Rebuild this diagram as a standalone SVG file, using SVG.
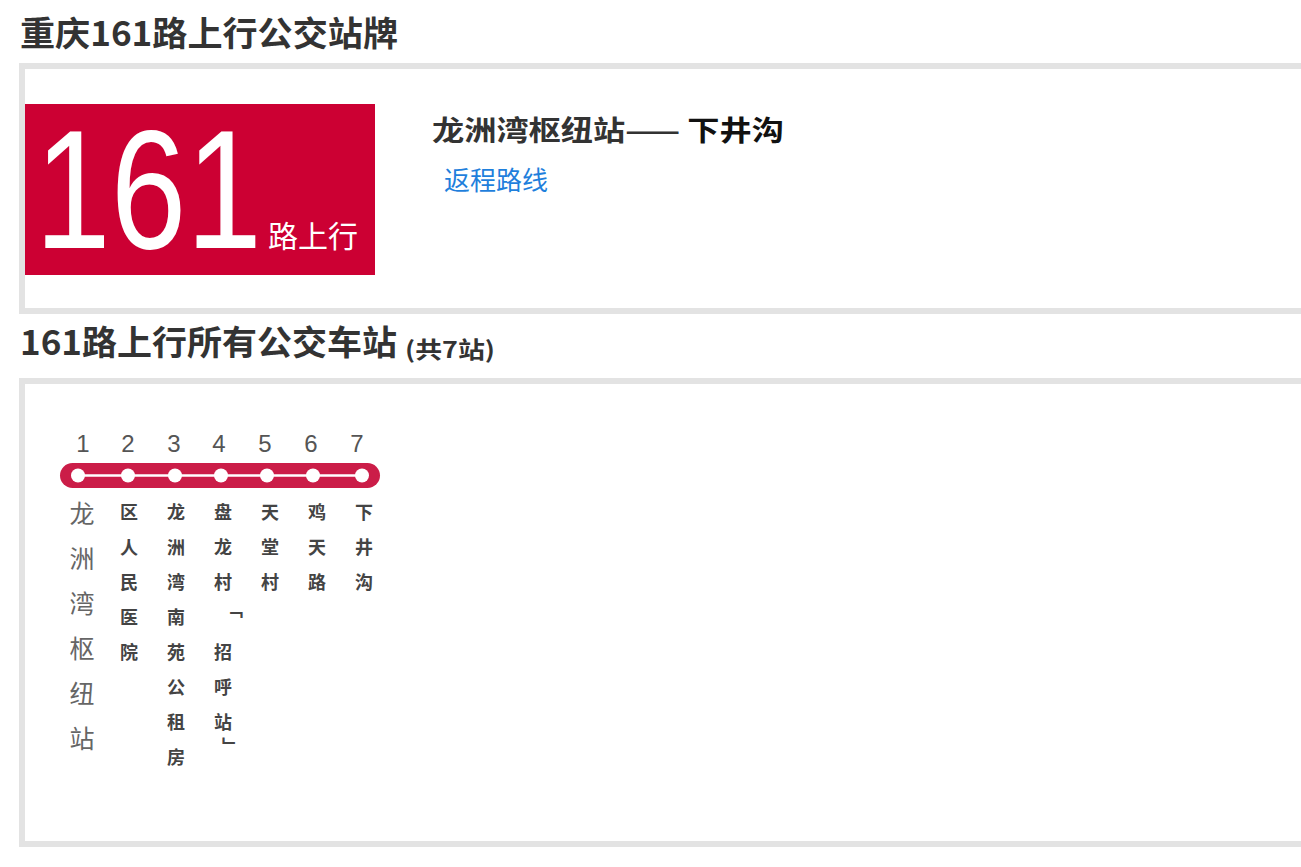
<svg xmlns="http://www.w3.org/2000/svg" width="1301" height="867" viewBox="0 0 1301 867">
<style>
.h{font-family:"Noto Sans CJK SC","Liberation Sans",sans-serif;font-weight:bold;fill:#333;}
.panel{fill:#fff;stroke:#e3e3e3;stroke-width:6;}
.num{font-family:"Liberation Sans","Noto Sans CJK SC",sans-serif;font-size:24px;fill:#555;text-anchor:middle;}
.big{font-family:"Noto Sans CJK SC",sans-serif;font-size:25px;fill:#666;text-anchor:middle;}
.sm{font-family:"Noto Sans CJK SC",sans-serif;font-size:18px;font-weight:bold;fill:#444;text-anchor:middle;}
.dot{fill:#fff;}
</style>
<rect width="1301" height="867" fill="#fff"/>
<text class="h" x="20" y="46" font-size="34" textLength="378" lengthAdjust="spacingAndGlyphs">重庆161路上行公交站牌</text>
<rect class="panel" x="22" y="66" width="1290" height="245"/>
<g id="badge">
<rect x="25" y="104" width="350" height="171" fill="#cc0033"/>
<text x="35" y="248" font-family="Liberation Sans,sans-serif" font-size="168" fill="#fff" textLength="227" lengthAdjust="spacingAndGlyphs">161</text>
<text x="268" y="247" font-family="Noto Sans CJK SC,sans-serif" font-size="30" fill="#fff">路上行</text>
</g>
<g id="route-title">
<text x="432" y="141" font-family="Noto Sans CJK SC,sans-serif" font-size="28" font-weight="bold" textLength="352" lengthAdjust="spacingAndGlyphs"><tspan fill="#333">龙洲湾枢纽站—— </tspan><tspan fill="#111">下井沟</tspan></text>
<text x="444" y="190" font-family="Noto Sans CJK SC,sans-serif" font-size="26" fill="#1f7fdc">返程路线</text>
</g>
<text class="h" x="20" y="355" font-size="34" textLength="377" lengthAdjust="spacingAndGlyphs">161路上行所有公交车站</text>
<text x="405" y="358" font-family="Noto Sans CJK SC,sans-serif" font-size="23" fill="#333" font-weight="bold" textLength="90" lengthAdjust="spacingAndGlyphs">(共7站)</text>
<rect class="panel" x="22" y="381" width="1290" height="463"/>
<g id="connectors">
<rect x="60" y="463" width="320" height="25" rx="12.5" fill="#cb1d48"/>
<line x1="78" y1="475.5" x2="362" y2="475.5" stroke="#fff" stroke-width="2.5"/>
</g>
<g id="stop1"><text class="num" x="83" y="452">1</text><circle class="dot" cx="78" cy="475.5" r="7"/>
<text class="big"><tspan x="82" y="523">龙</tspan><tspan x="82" y="568">洲</tspan><tspan x="82" y="613">湾</tspan><tspan x="82" y="658">枢</tspan><tspan x="82" y="703">纽</tspan><tspan x="82" y="748">站</tspan></text></g>
<g id="stop2"><text class="num" x="128" y="452">2</text><circle class="dot" cx="128" cy="475.5" r="7"/>
<text class="sm"><tspan x="129" y="519">区</tspan><tspan x="129" y="554">人</tspan><tspan x="129" y="589">民</tspan><tspan x="129" y="624">医</tspan><tspan x="129" y="659">院</tspan></text></g>
<g id="stop3"><text class="num" x="174" y="452">3</text><circle class="dot" cx="175" cy="475.5" r="7"/>
<text class="sm"><tspan x="176" y="519">龙</tspan><tspan x="176" y="554">洲</tspan><tspan x="176" y="589">湾</tspan><tspan x="176" y="624">南</tspan><tspan x="176" y="659">苑</tspan><tspan x="176" y="694">公</tspan><tspan x="176" y="729">租</tspan><tspan x="176" y="764">房</tspan></text></g>
<g id="stop4"><text class="num" x="219" y="452">4</text><circle class="dot" cx="221" cy="475.5" r="7"/>
<text class="sm"><tspan x="223" y="519">盘</tspan><tspan x="223" y="554">龙</tspan><tspan x="223" y="589">村</tspan><tspan x="234" y="616">﹁</tspan><tspan x="223" y="659">招</tspan><tspan x="223" y="694">呼</tspan><tspan x="223" y="729">站</tspan><tspan x="231" y="753">﹂</tspan></text></g>
<g id="stop5"><text class="num" x="265" y="452">5</text><circle class="dot" cx="267" cy="475.5" r="7"/>
<text class="sm"><tspan x="270" y="519">天</tspan><tspan x="270" y="554">堂</tspan><tspan x="270" y="589">村</tspan></text></g>
<g id="stop6"><text class="num" x="311" y="452">6</text><circle class="dot" cx="313" cy="475.5" r="7"/>
<text class="sm"><tspan x="317" y="519">鸡</tspan><tspan x="317" y="554">天</tspan><tspan x="317" y="589">路</tspan></text></g>
<g id="stop7"><text class="num" x="357" y="452">7</text><circle class="dot" cx="362" cy="475.5" r="7"/>
<text class="sm"><tspan x="364" y="519">下</tspan><tspan x="364" y="554">井</tspan><tspan x="364" y="589">沟</tspan></text></g>
</svg>
